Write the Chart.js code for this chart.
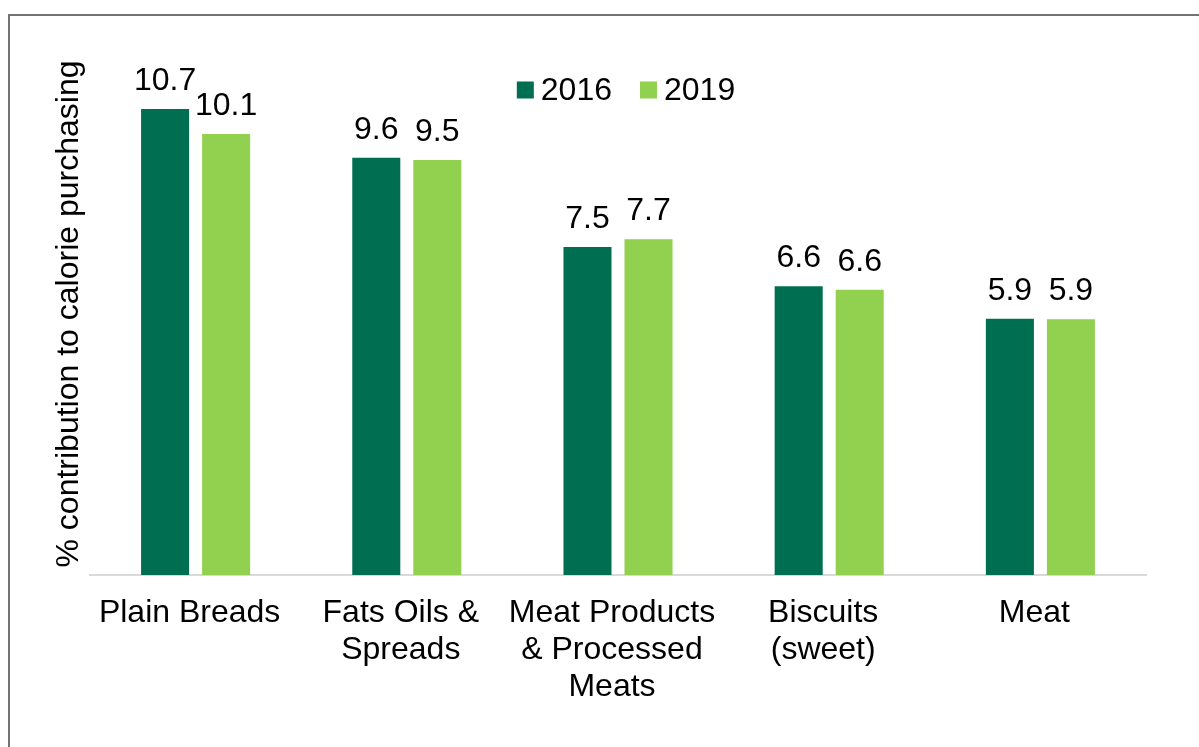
<!DOCTYPE html>
<html>
<head>
<meta charset="utf-8">
<script src="https://cdn.jsdelivr.net/npm/chart.js@4/dist/chart.umd.min.js"></script>
<style>
  html, body { margin: 0; padding: 0; background: #fff; }
  #wrap { width: 1199px; height: 747px; position: relative; }
</style>
</head>
<body>
<div id="wrap"><canvas id="chart"></canvas></div>
<script>
const categories = [
  "Plain Breads",
  ["Fats Oils &", "Spreads"],
  ["Meat Products", "& Processed", "Meats"],
  ["Biscuits", "(sweet)"],
  "Meat",
];
const values2016 = [10.71, 9.59, 7.54, 6.64, 5.89];
const values2019 = [10.14, 9.54, 7.72, 6.56, 5.88];
const seriesLabels = ["2016", "2019"];
const seriesColors = ["#006f51", "#92d050"];

const FONT = "'Liberation Sans', Arial, sans-serif";
const FONT_SIZE = 32;

// white background plus the grey frame that runs off the right/bottom edge
const framePlugin = {
  id: "frame",
  beforeDraw: (chart) => {
    const ctx = chart.ctx;
    ctx.save();
    ctx.fillStyle = "#fff";
    ctx.fillRect(0, 0, chart.width, chart.height);
    ctx.strokeStyle = "#737373";
    ctx.lineWidth = 2;
    ctx.strokeRect(9, 15, 1300, 900);
    ctx.restore();
  },
};

// value labels above each bar
const valueLabels = {
  id: "valueLabels",
  afterDatasetsDraw: (chart) => {
    const ctx = chart.ctx;
    ctx.save();
    ctx.font = FONT_SIZE + "px " + FONT;
    ctx.fillStyle = "#000";
    ctx.textAlign = "center";
    ctx.textBaseline = "alphabetic";
    chart.data.datasets.forEach((ds, i) => {
      chart.getDatasetMeta(i).data.forEach((bar, j) => {
        ctx.fillText(ds.data[j].toFixed(1), bar.x, bar.y - 19);
      });
    });
    ctx.restore();
  },
};

// legend sitting inside the plot area, like the Excel original
const insideLegend = {
  id: "insideLegend",
  afterDraw: (chart) => {
    const ctx = chart.ctx;
    const BOX = 17;
    const TEXT_GAP = 7;
    const ITEM_GAP = 28;
    const cy = 90;
    ctx.save();
    ctx.font = FONT_SIZE + "px " + FONT;
    ctx.textBaseline = "middle";
    ctx.textAlign = "left";
    const items = chart.data.datasets.map((ds) => ({
      text: ds.label,
      color: ds.backgroundColor,
      w: BOX + TEXT_GAP + ctx.measureText(ds.label).width,
    }));
    const total = items.reduce((s, it) => s + it.w, 0) + ITEM_GAP * (items.length - 1);
    let x = (chart.chartArea.left + chart.chartArea.right) / 2 + 8 - total / 2;
    items.forEach((it) => {
      ctx.fillStyle = it.color;
      ctx.fillRect(x, cy - BOX / 2, BOX, BOX);
      ctx.fillStyle = "#000";
      ctx.fillText(it.text, x + BOX + TEXT_GAP, cy + 1);
      x += it.w + ITEM_GAP;
    });
    ctx.restore();
  },
};

const datasets = [values2016, values2019].map((data, i) => ({
  label: seriesLabels[i],
  data,
  backgroundColor: seriesColors[i],
  borderWidth: 0,
  categoryPercentage: 0.578,
  barPercentage: 0.787,
}));

new Chart(document.getElementById("chart"), {
  type: "bar",
  data: { labels: categories, datasets },
  plugins: [framePlugin, valueLabels, insideLegend],
  options: {
    responsive: true,
    maintainAspectRatio: false,
    animation: false,
    layout: {
      padding: { left: 0, right: 53, top: 53, bottom: 22 },
    },
    scales: {
      y: {
        min: 0,
        max: 12,
        ticks: { display: false },
        grid: { display: false },
        border: { display: false },
        title: {
          display: true,
          text: "% contribution to calorie purchasing",
          color: "#000",
          font: { family: FONT, size: FONT_SIZE, lineHeight: 1.17 },
          padding: { top: 50, bottom: 0 },
        },
        afterFit: (scale) => {
          scale.width = 90;
        },
      },
      x: {
        grid: { display: false, drawTicks: false },
        border: { display: true, color: "#d9d9d9", width: 2 },
        ticks: {
          color: "#000",
          padding: 19,
          labelOffset: -6,
          maxRotation: 0,
          autoSkip: false,
          font: { family: FONT, size: FONT_SIZE, lineHeight: 1.17 },
        },
        afterFit: (scale) => {
          scale.height = 150;
        },
      },
    },
    plugins: {
      legend: { display: false },
      tooltip: { enabled: false },
    },
  },
});
</script>
</body>
</html>
